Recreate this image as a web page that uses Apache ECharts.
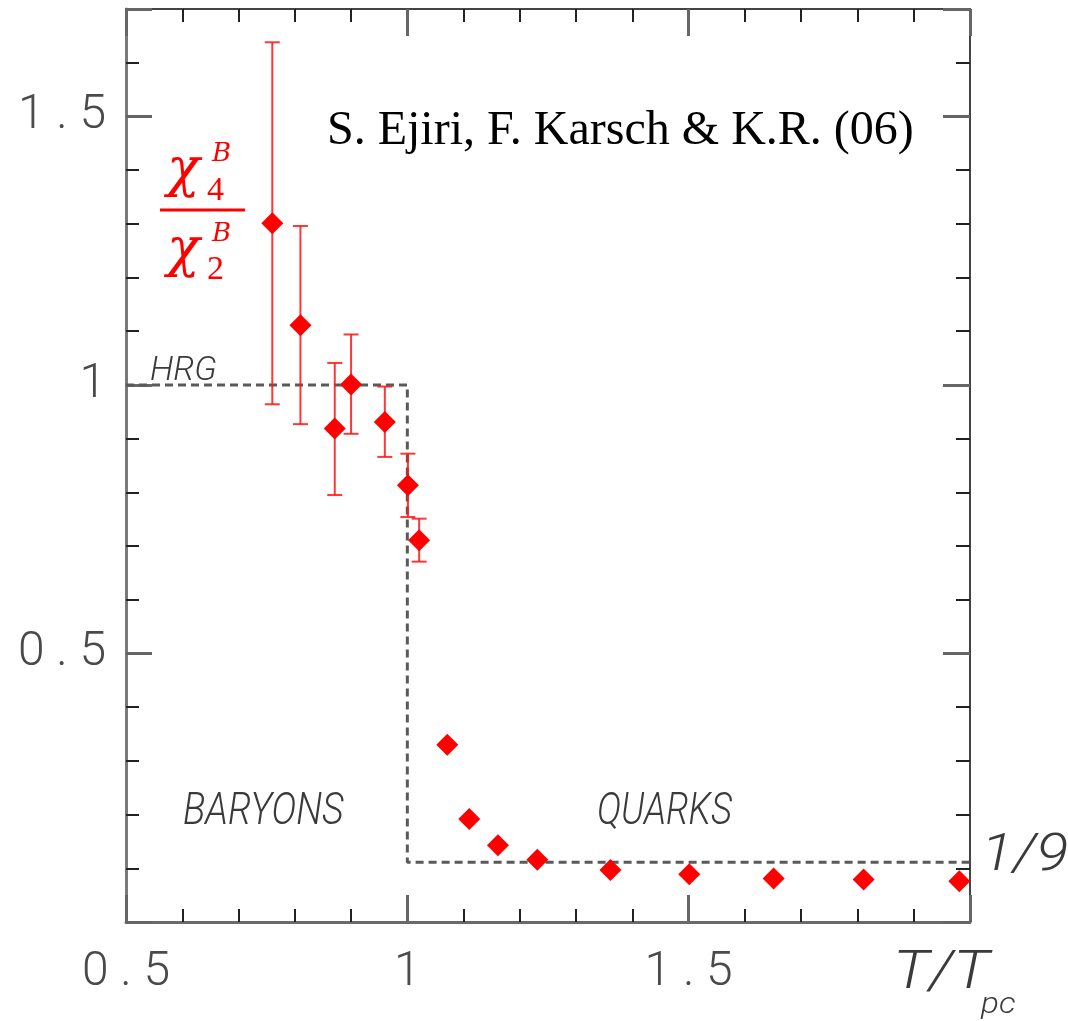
<!DOCTYPE html>
<html>
<head>
<meta charset="utf-8">
<script src="https://cdn.jsdelivr.net/npm/echarts@6/dist/echarts.min.js"></script>
<style>
  html, body { margin: 0; padding: 0; background: #ffffff; }
  #chart { width: 1068px; height: 1021px; }
</style>
</head>
<body>
<div id="chart"></div>
<script>
// Lattice results: reduced temperature and the ratio chi4^B / chi2^B
const temps   = [0.760, 0.810, 0.871, 0.900, 0.960, 1.001, 1.021, 1.071, 1.110, 1.161, 1.231, 1.361, 1.501, 1.651, 1.811, 1.981];
const ratio   = [1.301, 1.111, 0.919, 1.001, 0.931, 0.813, 0.711, 0.330, 0.192, 0.143, 0.116, 0.097, 0.089, 0.081, 0.079, 0.076];
// Error-bar bounds (only the low-temperature points carry visible errors)
const errLow  = [0.964, 0.927, 0.795, 0.909, 0.866, 0.754, 0.671, null, null, null, null, null, null, null, null, null];
const errHigh = [1.638, 1.296, 1.041, 1.094, 0.997, 0.872, 0.751, null, null, null, null, null, null, null, null, null];

// Limiting values: hadron resonance gas (1) below T_pc, free quarks (1/9) above
const stepT     = [0.5, 1.0, 1.0, 2.0];
const stepRatio = [1, 1, 1 / 9, 1 / 9];

// Axis ranges and labelled ticks
const xRange = [0.5, 2.0];
const yRange = [0, 1.7];
const xTickValues = [0.5, 1.0, 1.5];
const xTickTexts  = ['0 . 5', '1', '1 . 5'];
const yTickValues = [0.5, 1.0, 1.5];
const yTickTexts  = ['0 . 5', '1', '1 . 5'];

const RED = '#ff0000';
const labelFont = 'Roboto';

function tickText(values, texts) {
  return function (v) {
    for (let i = 0; i < values.length; i++) {
      if (Math.abs(values[i] - v) < 1e-6) return texts[i];
    }
    return '';
  };
}

const minorTickStyle = { color: '#222', width: 2 };
const majorTickStyle = { color: '#666', width: 3 };

function axisLineOf(line) {
  return line ? { show: true, onZero: false, lineStyle: line } : { show: false, onZero: false };
}
// x axes: major ticks every 0.5, minor ticks every 0.1
function makeX(position, line, labels) {
  return {
    type: 'value', position: position, min: xRange[0], max: xRange[1], interval: 0.5,
    axisLine: axisLineOf(line),
    axisTick: { show: true, inside: true, length: 27, lineStyle: Object.assign({}, majorTickStyle) },
    minorTick: { show: true, splitNumber: 5, length: 13, lineStyle: Object.assign({}, minorTickStyle) },
    axisLabel: labels ? {
      show: true, margin: 27, fontFamily: labelFont, fontWeight: 300, fontSize: 48, color: '#4a4a4a',
      formatter: tickText(xTickValues, xTickTexts)
    } : { show: false },
    splitLine: { show: false }
  };
}
// y axes: a 0.1-step axis for short ticks and a 0.5-step axis for long ticks
function makeY(position, interval, tickLen, tickStyle, line, labels) {
  return {
    type: 'value', position: position, min: yRange[0], max: yRange[1], interval: interval,
    axisLine: axisLineOf(line),
    axisTick: { show: true, inside: true, length: tickLen, lineStyle: Object.assign({}, tickStyle) },
    axisLabel: labels ? {
      show: true, margin: 20, fontFamily: labelFont, fontWeight: 300, fontSize: 48, color: '#4a4a4a',
      formatter: tickText(yTickValues, yTickTexts)
    } : { show: false },
    splitLine: { show: false }
  };
}

const errData = [];
for (let i = 0; i < temps.length; i++) {
  if (errLow[i] != null) errData.push([temps[i], errLow[i], errHigh[i]]);
}
const pointData = temps.map((t, i) => [t, ratio[i]]);
const stepData = stepT.map((t, i) => [t, stepRatio[i]]);

const chart = echarts.init(document.getElementById('chart'), null, { renderer: 'canvas' });

function label(x, y, text, extra, scaleX) {
  const style = Object.assign({
    text: text, fontFamily: labelFont, fontWeight: 300, fontStyle: 'italic',
    fill: '#3a3a3a', align: 'left', verticalAlign: 'middle'
  }, extra);
  const el = { type: 'text', x: x, y: y, style: style };
  if (scaleX) el.scaleX = scaleX;
  return el;
}
function redText(x, y, text, size, italic) {
  return {
    type: 'text', x: x, y: y,
    style: {
      text: text, fontFamily: italic ? 'DejaVu Serif' : 'Liberation Serif',
      fontStyle: italic ? 'italic' : 'normal', fontSize: size, fill: RED,
      align: 'left', verticalAlign: 'middle'
    }
  };
}

chart.setOption({
  animation: false,
  backgroundColor: '#ffffff',
  grid: { left: 126, top: 9, right: 98, bottom: 99, containLabel: false },
  xAxis: [
    makeX('bottom', { color: '#6a6a6a', width: 3 }, true),
    makeX('top', { color: '#444', width: 2 }, false)
  ],
  yAxis: [
    makeY('left', 0.1, 13, minorTickStyle, { color: '#7a7a7a', width: 3 }, false),
    makeY('left', 0.5, 26, majorTickStyle, null, true),
    makeY('right', 0.1, 14, minorTickStyle, { color: '#444', width: 2 }, false),
    makeY('right', 0.5, 27, majorTickStyle, null, false)
  ],
  series: [
    {
      name: 'limits', type: 'line', data: stepData, symbol: 'none', silent: true,
      lineStyle: { color: '#5a5a5a', width: 3, type: [8, 5] }, z: 2
    },
    {
      name: 'errors', type: 'custom', data: errData, z: 3,
      encode: { x: 0, y: [1, 2] },
      renderItem: function (params, api) {
        const x = api.value(0);
        const lo = api.coord([x, api.value(1)]);
        const hi = api.coord([x, api.value(2)]);
        const half = 7.5;
        const st = { stroke: 'rgba(255,20,20,0.85)', lineWidth: 2 };
        return {
          type: 'group',
          children: [
            { type: 'line', shape: { x1: hi[0], y1: hi[1], x2: lo[0], y2: lo[1] }, style: st },
            { type: 'line', shape: { x1: hi[0] - half, y1: hi[1], x2: hi[0] + half, y2: hi[1] }, style: st },
            { type: 'line', shape: { x1: lo[0] - half, y1: lo[1], x2: lo[0] + half, y2: lo[1] }, style: st }
          ]
        };
      }
    },
    {
      name: 'ratio', type: 'scatter', data: pointData, z: 4,
      symbol: 'diamond', symbolSize: [22, 22],
      itemStyle: { color: RED, opacity: 1 }
    }
  ],
  graphic: [
    // citation
    { type: 'text', x: 327, y: 131, style: { text: 'S. Ejiri, F. Karsch & K.R. (06)', fontFamily: 'Liberation Serif', fontSize: 48, fill: '#000', align: 'left', verticalAlign: 'middle' } },
    // region labels
    label(150, 371, 'HRG', { fontSize: 34 }),
    label(183, 813, 'BARYONS', { fontSize: 44 }, 0.853),
    label(597, 813, 'QUARKS', { fontSize: 44 }, 0.83),
    label(981, 857, '1/9', { fontSize: 52 }, 1.15),
    // axis title T/T_pc
    label(893, 975, 'T/T', { fontSize: 53 }, 1.18),
    label(981, 1006, 'pc', { fontSize: 29 }, 1.15),
    // ratio label chi4^B / chi2^B
    redText(167, 172, 'χ', 54, true),
    redText(207, 191, '4', 34, false),
    redText(212, 154, 'B', 26, true),
    { type: 'line', shape: { x1: 160, y1: 210, x2: 245, y2: 210 }, style: { stroke: RED, lineWidth: 3 } },
    redText(167, 252, 'χ', 54, true),
    redText(207, 270, '2', 34, false),
    redText(212, 234, 'B', 26, true)
  ]
});
</script>
</body>
</html>
